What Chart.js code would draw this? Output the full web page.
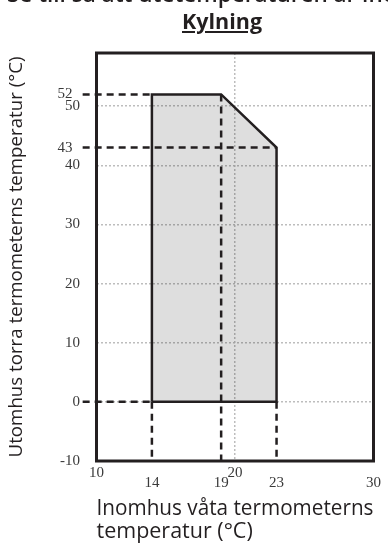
<!DOCTYPE html>
<html><head><meta charset="utf-8">
<script src="https://cdn.jsdelivr.net/npm/chart.js@4.4.1/dist/chart.umd.min.js"></script>
<style>
html,body{margin:0;padding:0;background:#fff;width:388px;height:543px;overflow:hidden;position:relative}
#c{position:absolute;left:0;top:0}
.hd{position:absolute;white-space:nowrap;font-family:'Open Sans',sans-serif;color:#231f20;line-height:1;z-index:2}
</style></head><body>
<div class="hd" style="left:7px;top:-17px;font-size:22.5px;font-weight:600">Se till så att utetemperaturen är inom</div>
<div class="hd" style="left:182px;top:10px;font-size:21.5px;font-weight:700;text-decoration:underline">Kylning</div>
<canvas id="c" width="388" height="543"></canvas>
<script>
// ---- data ----
const xTickValues = [10, 14, 19, 20, 23, 30];
const yTickValues = [-10, 0, 10, 20, 30, 40, 43, 50, 52];
const xGridValues = [20];
const yGridValues = [0, 10, 20, 30, 40, 50];
const envelopeX = [14, 14, 19, 23, 23, 14];
const envelopeY = [0, 52, 52, 43, 0, 0];
const guideStartX = 9;
const hGuideY = [52, 43, 0];
const hGuideEndX = [14, 23, 14];
const vGuideX = [14, 19, 23];
const vGuideTopY = [0, 52, 0];
const guideBottomY = -10;
const xAxisMin = 10, xAxisMax = 30, yAxisMin = -10, yAxisMax = 59;
const xTitle = ['Inomhus våta termometerns', 'temperatur (°C)'];
const yTitle = 'Utomhus torra termometerns temperatur (°C)';

// ---- chart ----
const INK = '#231f20';
const guideStyle = {borderColor: INK, borderWidth: 2.5, borderDash: [7, 5], pointRadius: 0, showLine: true, fill: false, clip: false, order: 1};
const datasets = [];
datasets.push({
  data: envelopeX.map((x, i) => ({x, y: envelopeY[i]})),
  showLine: true, pointRadius: 0, borderColor: INK, borderWidth: 2.5,
  backgroundColor: 'rgba(0,0,0,0.13)', fill: 'shape', order: 2, clip: false
});
hGuideY.forEach((y, i) => datasets.push(Object.assign({data: [{x: guideStartX, y}, {x: hGuideEndX[i], y}]}, guideStyle)));
vGuideX.forEach((x, i) => datasets.push(Object.assign({data: [{x, y: vGuideTopY[i]}, {x, y: guideBottomY}]}, guideStyle)));

const framePlugin = {id: 'frame', afterDatasetsDraw(chart) {
  const {ctx, chartArea: a} = chart;
  ctx.save(); ctx.strokeStyle = INK; ctx.lineWidth = 3; ctx.setLineDash([]);
  ctx.strokeRect(a.left, a.top, a.right - a.left, a.bottom - a.top);
  ctx.restore();
}};

const raisedX = [10, 20];
const shiftedY = [43, 52];
const tickFont = {family: 'Liberation Serif', size: 15, lineHeight: 0.67};
const yTickFont = {family: 'Liberation Serif', size: 15, lineHeight: 1};

new Chart(document.getElementById('c'), {
  type: 'scatter',
  data: {datasets},
  options: {
    responsive: false, animation: false,
    layout: {padding: {top: 53, right: 9.5, left: 0, bottom: 0}},
    plugins: {legend: {display: false}, tooltip: {enabled: false}},
    scales: {
      x: {
        type: 'linear', min: xAxisMin, max: xAxisMax, position: 'bottom',
        afterBuildTicks: s => { s.ticks = xTickValues.map(v => ({value: v})); },
        afterFit: s => { s.height = 82; },
        ticks: {autoSkip: false, maxRotation: 0, padding: 7, font: tickFont, color: '#3a3a3a',
          callback: v => raisedX.includes(v) ? String(v) : ['', String(v)]},
        grid: {drawTicks: false, lineWidth: 1.5,
          color: c => (c.tick && xGridValues.includes(c.tick.value)) ? '#bdbdbd' : 'rgba(0,0,0,0)'},
        border: {display: false, dash: [2, 2]},
        title: {display: true, text: xTitle, align: 'start', font: {family: 'Open Sans', size: 21.5, lineHeight: 1.07}, color: INK, padding: {top: 0, bottom: 0}}
      },
      y: {
        type: 'linear', min: yAxisMin, max: yAxisMax, position: 'left',
        afterBuildTicks: s => { s.ticks = yTickValues.map(v => ({value: v})); },
        afterFit: s => { s.width = 96.5; },
        ticks: {autoSkip: false, padding: 16.5, font: yTickFont, color: '#3a3a3a',
          callback: v => shiftedY.includes(v) ? v + '  ' : String(v)},
        grid: {drawTicks: false, lineWidth: 1.5,
          color: c => (c.tick && yGridValues.includes(c.tick.value)) ? '#bdbdbd' : 'rgba(0,0,0,0)'},
        border: {display: false, dash: [2, 2]},
        title: {display: true, text: yTitle, font: {family: 'Open Sans', size: 18.7, lineHeight: 1.15}, color: INK, padding: {top: 5.5, bottom: 0}}
      }
    }
  },
  plugins: [framePlugin]
});
</script>
</body></html>
